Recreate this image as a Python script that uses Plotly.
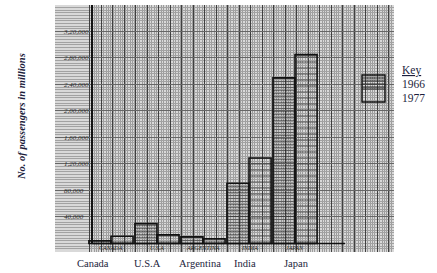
import plotly.graph_objects as go

# ---- data ----
countries = ["Canada", "U.S.A", "Argentina", "India", "Japan"]
hand_labels = ["CANADA", "U.S.A", "ARGENTINA", "INDIA", "JAPAN"]
passengers_1966 = [4000, 30000, 10000, 91000, 250000]
passengers_1977 = [11000, 13000, 7000, 129000, 285000]
y_tick_values = [40000, 80000, 120000, 160000, 200000, 240000, 280000, 320000]
y_tick_labels = ["40,000", "80,000", "1,20,000", "1,60,000", "2,00,000",
                 "2,40,000", "2,80,000", "3,20,000"]

# ---- layout constants (pixels) ----
W, H = 437, 273
L, R, T, B = 55, 43, 5, 21
PW, PH = W - L - R, H - T - B
x_range = [-1.217, 6.152]
y_range = [-12830, 359900]
px_per_x = PW / (x_range[1] - x_range[0])
px_per_y = PH / (y_range[1] - y_range[0])

x_pos = list(range(len(countries)))
ink = "#1c1d3c"


def px2paper(xp, yp):
    return (xp - L) / PW, (H - B - yp) / PH


fig = go.Figure()
fig.add_trace(go.Bar(
    x=x_pos, y=passengers_1966, name="1966",
    marker=dict(color="rgba(40,40,40,0.22)",
                line=dict(color="#111", width=1.6),
                pattern=dict(shape="-", fgcolor="#1a1a1a", size=3, solidity=0.45,
                             bgcolor="rgba(0,0,0,0)")),
))
fig.add_trace(go.Bar(
    x=x_pos, y=passengers_1977, name="1977",
    marker=dict(color="rgba(255,255,255,0.22)",
                line=dict(color="#111", width=1.6),
                pattern=dict(shape="-", fgcolor="#333", size=6, solidity=0.25,
                             bgcolor="rgba(0,0,0,0)")),
))

# axis lines of the hand-drawn chart
axis_x = (92 - 111) / px_per_x
fig.add_shape(type="line", xref="x", yref="y", x0=axis_x, x1=axis_x,
              y0=0, y1=y_range[1], line=dict(color="#111", width=2))
fig.add_shape(type="line", xref="x", yref="y", x0=axis_x, x1=(345 - 111) / px_per_x,
              y0=0, y1=0, line=dict(color="#111", width=1.5))

# category labels under the paper
label_px = [93, 148, 200, 245, 297]
for name, px in zip(countries, label_px):
    _, yy = px2paper(0, 263)
    fig.add_annotation(x=(px - 111) / px_per_x, xref="x", y=yy, yref="paper",
                       yanchor="middle", text=name, showarrow=False,
                       font=dict(family="Liberation Serif", size=10.5, color=ink))

# hand-written labels on the paper under the bars
for name, i in zip(hand_labels, x_pos):
    _, yy = px2paper(0, 248)
    fig.add_annotation(x=i, xref="x", y=yy, yref="paper", yanchor="middle",
                       text=f"<i>{name}</i>", showarrow=False,
                       font=dict(family="Liberation Serif", size=6, color="#222"))

# y title
xx, yy = px2paper(22, 117)
fig.add_annotation(x=xx, xref="paper", y=yy, yref="paper", xanchor="center",
                   yanchor="middle",
                   text="<b><i>No. of passengers in millions</i></b>", textangle=-90,
                   showarrow=False,
                   font=dict(family="Liberation Serif", size=10.5, color=ink))

# key
for txt, yp in [("<u>Key</u>", 71), ("1966", 84), ("1977", 98)]:
    xx, yy = px2paper(400, yp)
    fig.add_annotation(x=xx, y=yy, xref="paper", yref="paper", xanchor="left",
                       yanchor="middle", text=txt, showarrow=False,
                       font=dict(family="Liberation Serif", size=11.5, color=ink))
x0, y0 = px2paper(362, 102)
x1, y1 = px2paper(385, 75)
fig.add_shape(type="rect", xref="paper", yref="paper", x0=x0, x1=x1, y0=y0, y1=y1,
              line=dict(color="#111", width=1.4), fillcolor="rgba(0,0,0,0)")
for yp in [78, 81, 84, 87, 89]:
    _, yy = px2paper(0, yp)
    fig.add_shape(type="line", xref="paper", yref="paper", x0=x0, x1=x1, y0=yy, y1=yy,
                  line=dict(color="#222", width=1))

fig.update_layout(
    width=W, height=H,
    margin=dict(l=L, r=R, t=T, b=B, pad=0),
    paper_bgcolor="white",
    plot_bgcolor="#d9d9d9",
    barmode="group", bargap=0.04, bargroupgap=0,
    showlegend=False,
    xaxis=dict(range=x_range, showticklabels=False, ticks="", zeroline=False,
               showline=False, tick0=x_range[0], dtick=11.5 / px_per_x,
               showgrid=True, gridcolor="#3f3f3f", gridwidth=1,
               minor=dict(dtick=2.4 / px_per_x, showgrid=True,
                          gridcolor="#9c9c9c", gridwidth=1)),
    yaxis=dict(range=y_range, tickvals=y_tick_values, ticktext=y_tick_labels,
               ticklabelposition="inside", ticks="", zeroline=False, showline=False,
               ticklabelstandoff=6,
               tickfont=dict(family="Liberation Serif", size=7, color="#2a2a2a",
                             style="italic"),
               showgrid=True, gridcolor="#666666", gridwidth=1,
               minor=dict(dtick=4000, showgrid=True, gridcolor="#a2a2a2", gridwidth=1)),
)

fig.write_html("out.html")
